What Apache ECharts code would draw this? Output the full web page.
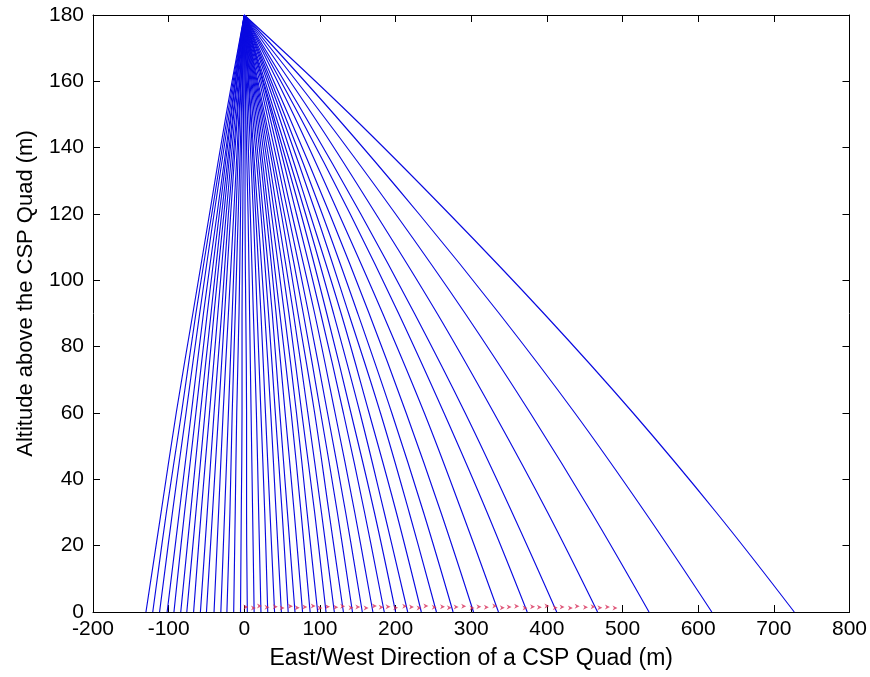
<!DOCTYPE html>
<html>
<head>
<meta charset="utf-8">
<script src="https://cdn.jsdelivr.net/npm/echarts@6/dist/echarts.min.js"></script>
<style>
html,body{margin:0;padding:0;background:#fff;}
#chart{width:870px;height:677px;}
</style>
</head>
<body>
<div id="chart"></div>
<script>
// Altitude levels (m) at which each trajectory's x position was read
const altitudes = [180, 150, 120, 90, 60, 30, 0];

// East/West position (m) of each trajectory at the altitudes above
const trajectoryX = [
  [0, -24, -46, -68, -90, -110, -130],
  [0, -22, -43, -64, -83, -103, -121],
  [0, -20, -40, -59, -77, -95, -112],
  [0, -18, -36, -54, -70, -86, -102],
  [0, -17, -33, -49, -64, -79, -93],
  [0, -15, -30, -44, -58, -71, -84],
  [0, -14, -27, -40, -52, -64, -76],
  [0, -12, -24, -35, -46, -57, -67],
  [0, -10, -21, -30, -40, -49, -58],
  [0, -9, -18, -26, -34, -42, -50],
  [0, -7, -14, -21, -28, -34, -40],
  [0, -6, -11, -16, -21, -26, -31],
  [0, -4, -8, -12, -16, -19, -23],
  [0, -3, -5, -7, -10, -12, -14],
  [0, -1, -2, -3, -3, -4, -5],
  [0, 1, 1, 2, 3, 3, 4],
  [0, 2, 5, 7, 9, 11, 13],
  [0, 4, 8, 12, 16, 19, 22],
  [0, 6, 12, 17, 22, 27, 31],
  [0, 8, 15, 22, 28, 34, 40],
  [0, 9, 18, 27, 35, 42, 49],
  [0, 11, 22, 32, 41, 50, 58],
  [0, 13, 25, 37, 47, 57, 67],
  [0, 15, 29, 42, 54, 66, 77],
  [0, 17, 32, 47, 62, 75, 87],
  [0, 19, 36, 53, 69, 83, 97],
  [0, 21, 40, 59, 76, 93, 108],
  [0, 23, 44, 65, 84, 102, 119],
  [0, 25, 49, 71, 93, 112, 131],
  [0, 27, 53, 78, 101, 123, 143],
  [0, 30, 58, 85, 110, 134, 156],
  [0, 33, 63, 93, 120, 146, 170],
  [0, 36, 69, 101, 131, 159, 185],
  [0, 38, 75, 109, 141, 172, 200],
  [0, 41, 81, 118, 153, 185, 216],
  [0, 45, 87, 128, 165, 201, 234],
  [0, 49, 95, 138, 180, 218, 254],
  [0, 53, 103, 150, 195, 237, 276],
  [0, 58, 113, 165, 214, 260, 303],
  [0, 65, 125, 183, 238, 288, 336],
  [0, 72, 140, 204, 264, 321, 374],
  [0, 79, 154, 225, 292, 354, 413],
  [0, 90, 174, 255, 330, 401, 467],
  [0, 103, 200, 292, 378, 459, 535],
  [0, 119, 231, 337, 437, 530, 618],
  [0, 140, 271, 396, 514, 624, 727]
];

// Ground markers near the quad surface
const markerX = [2, 12, 20, 30, 41, 50, 61, 70, 80, 91, 100, 110, 121, 130, 141, 150, 161, 172, 181, 190,
  200, 212, 221, 231, 240, 251, 262, 271, 280, 290, 301, 310, 320, 331, 341, 350, 360, 371, 381, 390,
  400, 411, 420, 431, 440, 451, 461, 470, 480, 490];
const markerY = [1.5, 1.2, 1.8, 1.4, 1.6, 1.2, 1.7, 1.3, 1.5, 1.8, 1.2, 1.6, 1.4, 1.7, 1.3, 1.5, 1.2, 1.8, 1.4, 1.6,
  1.3, 1.7, 1.5, 1.2, 1.8, 1.4, 1.6, 1.3, 1.5, 1.7, 1.2, 1.6, 1.4, 1.8, 1.3, 1.5, 1.7, 1.2, 1.6, 1.4,
  1.8, 1.3, 1.5, 1.2, 1.7, 1.4, 1.6, 1.3, 1.5, 1.2];

// Axis settings
const xTicks = { min: -200, max: 800, interval: 100 };
const yTicks = { min: 0, max: 180, interval: 20 };
const xTitle = 'East/West Direction of a CSP Quad (m)';
const yTitle = 'Altitude above the CSP Quad (m)';

const FONT = '"Liberation Sans", Arial, sans-serif';
const lineColor = '#0a0ae0';

const chart = echarts.init(document.getElementById('chart'), null, { renderer: 'canvas' });

const series = trajectoryX.map((row, k) => ({
  type: 'line',
  name: 'traj' + k,
  data: row.map((x, i) => [x, altitudes[i]]),
  smooth: 0.4,
  symbol: 'none',
  lineStyle: { color: lineColor, width: 1.15 },
  silent: true,
  z: 2
}));

series.push({
  type: 'scatter',
  data: markerX.map((x, i) => [x, markerY[i]]),
  symbol: 'path://M0,0L10,5L0,10L3,5Z',
  symbolSize: [5, 5],
  itemStyle: { color: '#d8305a' },
  silent: true,
  z: 3
});

const axisLine = { show: true, onZero: false, lineStyle: { color: '#000', width: 1 } };
const tick = { show: true, inside: true, length: 7, lineStyle: { color: '#000', width: 1 } };

chart.setOption({
  animation: false,
  backgroundColor: '#fff',
  grid: { left: 93, right: 19, top: 15, bottom: 65, containLabel: false },
  xAxis: [
    {
      type: 'value', position: 'bottom', min: xTicks.min, max: xTicks.max, interval: xTicks.interval,
      axisLine: axisLine, axisTick: tick, splitLine: { show: false },
      axisLabel: { color: '#000', fontSize: 21, fontFamily: FONT, margin: 7 },
      name: xTitle, nameLocation: 'middle', nameGap: 35,
      nameTextStyle: { color: '#000', fontSize: 23, fontFamily: FONT }
    },
    {
      type: 'value', position: 'top', min: xTicks.min, max: xTicks.max, interval: xTicks.interval,
      axisLine: axisLine, axisTick: tick, splitLine: { show: false }, axisLabel: { show: false }
    }
  ],
  yAxis: [
    {
      type: 'value', position: 'left', min: yTicks.min, max: yTicks.max, interval: yTicks.interval,
      axisLine: axisLine, axisTick: tick, splitLine: { show: false },
      axisLabel: { color: '#000', fontSize: 21, fontFamily: FONT, margin: 9 },
      name: yTitle, nameLocation: 'middle', nameGap: 56, nameRotate: 90,
      nameTextStyle: { color: '#000', fontSize: 22, fontFamily: FONT, padding: [0, 0, 0, 40] }
    },
    {
      type: 'value', position: 'right', min: yTicks.min, max: yTicks.max, interval: yTicks.interval,
      axisLine: axisLine, axisTick: tick, splitLine: { show: false }, axisLabel: { show: false }
    }
  ],
  series: series
});
</script>
</body>
</html>
